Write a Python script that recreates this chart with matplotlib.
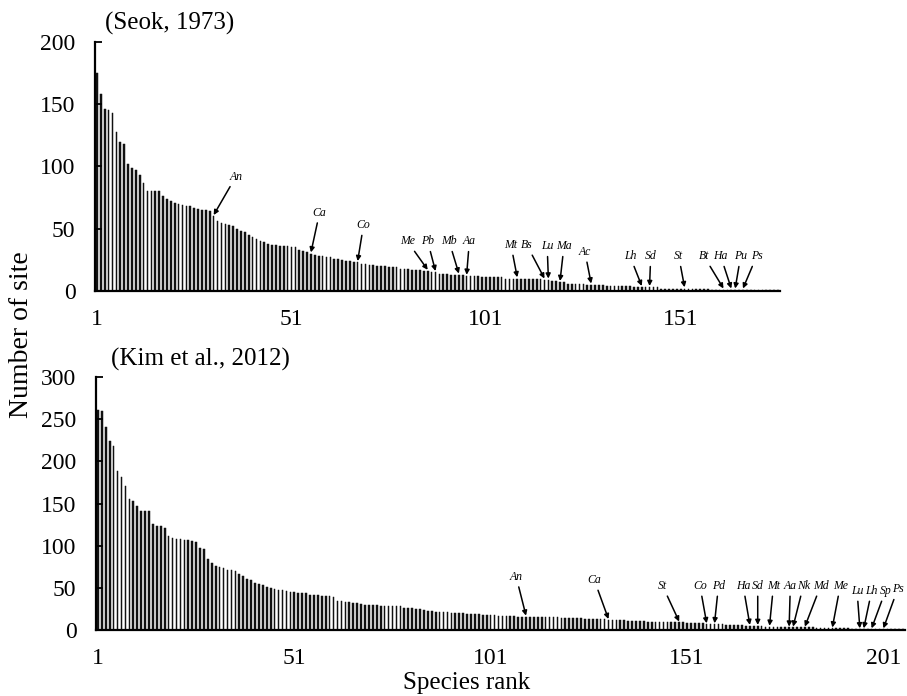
import matplotlib
matplotlib.use("Agg")
import matplotlib.pyplot as plt
import numpy as np

# site counts per species, sorted by rank
seok_counts = [
    175, 158, 146, 145, 143, 128, 120, 118, 102, 99,
    97, 93, 87, 80, 80, 80, 80, 76, 74, 72,
    71, 70, 69, 68, 68, 67, 66, 65, 65, 64,
    60, 56, 55, 54, 53, 52, 50, 48, 47, 45,
    43, 42, 40, 39, 38, 37, 37, 36, 36, 36,
    35, 35, 33, 32, 31, 30, 29, 28, 28, 27,
    27, 26, 26, 25, 24, 24, 23, 23, 22, 22,
    21, 21, 20, 20, 20, 19, 19, 19, 18, 18,
    18, 17, 17, 17, 16, 16, 15, 15, 14, 14,
    14, 13, 13, 13, 13, 12, 12, 12, 12, 11,
    11, 11, 11, 11, 11, 10, 10, 10, 10, 10,
    10, 10, 10, 10, 10, 9, 9, 8, 8, 7,
    7, 6, 6, 6, 6, 6, 5, 5, 5, 5,
    5, 4, 4, 4, 4, 4, 4, 4, 3, 3,
    3, 3, 3, 3, 3, 2, 2, 2, 2, 2,
    2, 2, 2, 2, 2, 2, 2, 2, 1, 1,
    1, 1, 1, 1, 1, 1, 1, 1, 1, 1,
    1, 1, 1, 1, 1, 1,
]

kim_counts = [
    261, 260, 241, 224, 218, 188, 182, 171, 155, 153,
    147, 141, 141, 141, 126, 123, 123, 121, 111, 109,
    108, 108, 107, 107, 106, 104, 97, 96, 84, 80,
    76, 75, 74, 71, 71, 70, 67, 64, 60, 59,
    56, 55, 53, 51, 50, 49, 48, 47, 46, 45,
    45, 44, 44, 44, 42, 42, 41, 40, 40, 40,
    39, 35, 34, 33, 33, 32, 32, 31, 30, 30,
    30, 30, 29, 29, 29, 29, 29, 28, 26, 26,
    26, 25, 25, 24, 22, 22, 21, 21, 21, 21,
    20, 20, 20, 20, 19, 19, 19, 19, 18, 18,
    18, 18, 17, 17, 17, 17, 17, 16, 16, 16,
    16, 16, 15, 15, 15, 15, 15, 15, 14, 14,
    14, 14, 14, 14, 13, 13, 13, 13, 13, 13,
    12, 12, 12, 12, 12, 11, 11, 11, 11, 11,
    10, 10, 10, 10, 10, 10, 9, 9, 9, 9,
    8, 8, 8, 8, 8, 7, 7, 7, 7, 7,
    6, 6, 6, 6, 6, 5, 5, 5, 5, 5,
    4, 4, 4, 4, 4, 4, 3, 3, 3, 3,
    3, 3, 3, 2, 2, 2, 2, 2, 2, 2,
    2, 2, 1, 1, 1, 1, 1, 1, 1, 1,
    1, 1, 1, 1, 1, 1,
]

# labelled species: name, rank pointed at
seok_labels = ["An", "Ca", "Co", "Me", "Pb", "Mb", "Aa", "Mt", "Bs", "Lu",
               "Ma", "Ac", "Lh", "Sd", "St", "Bt", "Ha", "Pu", "Ps"]
seok_ranks = [31, 56, 68, 86, 88, 94, 96, 109, 116, 117,
              120, 128, 141, 143, 152, 162, 164, 165, 167]
kim_labels = ["An", "Ca", "St", "Co", "Pd", "Ha", "Sd", "Mt", "Aa", "Nk",
              "Md", "Me", "Lu", "Lh", "Sp", "Ps"]
kim_ranks = [110, 131, 149, 156, 158, 167, 169, 172, 177, 178,
             181, 188, 195, 196, 198, 201]

# where the label text sits (rank, y) -- layout only
seok_text_pos = [(36.7, 87), (58.2, 58), (69.5, 48), (80.8, 35), (86, 35),
                 (91.5, 35), (96.7, 35), (107.4, 32), (111.5, 32), (116.7, 31),
                 (121, 31), (126.4, 26.5), (138, 23), (143.3, 23), (150.5, 23),
                 (157, 23), (161.3, 23), (166.4, 23), (170.5, 23)]
kim_text_pos = [(107.5, 56), (127.4, 52), (144.8, 45), (154.3, 45), (159, 45),
                (165.3, 45), (169, 45), (173, 45), (177.3, 45), (180.6, 45),
                (185, 45), (190, 45), (194.3, 39), (198, 39), (201.5, 39), (204.6, 41)]

plt.rcParams["font.family"] = ["Liberation Serif", "DejaVu Serif"]

fig = plt.figure(figsize=(9.07, 6.96), dpi=100)
ax1 = fig.add_axes([0.1047, 0.5819, 0.7552, 0.3578])
ax2 = fig.add_axes([0.1058, 0.0948, 0.8920, 0.3635])


def draw_panel(ax, counts, labels, ranks, text_pos, ymax, xticks):
    ranks_all = np.arange(1, len(counts) + 1)
    ax.bar(ranks_all, counts, width=0.42, color="#111111",
           edgecolor="#111111", linewidth=0.35)
    ax.set_xlim(0.5, len(counts) + 0.5)
    ax.set_ylim(0, ymax)
    ax.set_yticks(np.arange(0, ymax + 1, 50))
    ax.set_xticks(xticks)
    ax.set_xticklabels([str(t) for t in xticks])
    ax.tick_params(axis="y", direction="in", length=5, width=1.3, pad=14, labelsize=17)
    ax.tick_params(axis="x", length=0, pad=13, labelsize=17)
    for s in ["top", "right"]:
        ax.spines[s].set_visible(False)
    ax.spines["left"].set_linewidth(1.6)
    ax.spines["bottom"].set_linewidth(1.6)
    for name, r, (tx, ty) in zip(labels, ranks, text_pos):
        ax.annotate(name, xy=(r, counts[r - 1] + 1), xytext=(tx, ty),
                    fontsize=8.5, style="italic", ha="center", va="bottom",
                    annotation_clip=False,
                    arrowprops=dict(arrowstyle="-|>", color="black", lw=1.1,
                                    mutation_scale=7, shrinkA=1, shrinkB=0))


draw_panel(ax1, seok_counts, seok_labels, seok_ranks, seok_text_pos, 200, [1, 51, 101, 151])
draw_panel(ax2, kim_counts, kim_labels, kim_ranks, kim_text_pos, 300, [1, 51, 101, 151, 201])

fig.text(0.1874, 0.967, "(Seok, 1973)", ha="center", va="center", fontsize=18)
fig.text(0.2205, 0.483, "(Kim et al., 2012)", ha="center", va="center", fontsize=18)
fig.text(0.024, 0.519, "Number of site", rotation=90, ha="center", va="center", fontsize=20)
fig.text(0.514, 0.019, "Species rank", ha="center", va="center", fontsize=18)

fig.savefig("out.png", dpi=100)
